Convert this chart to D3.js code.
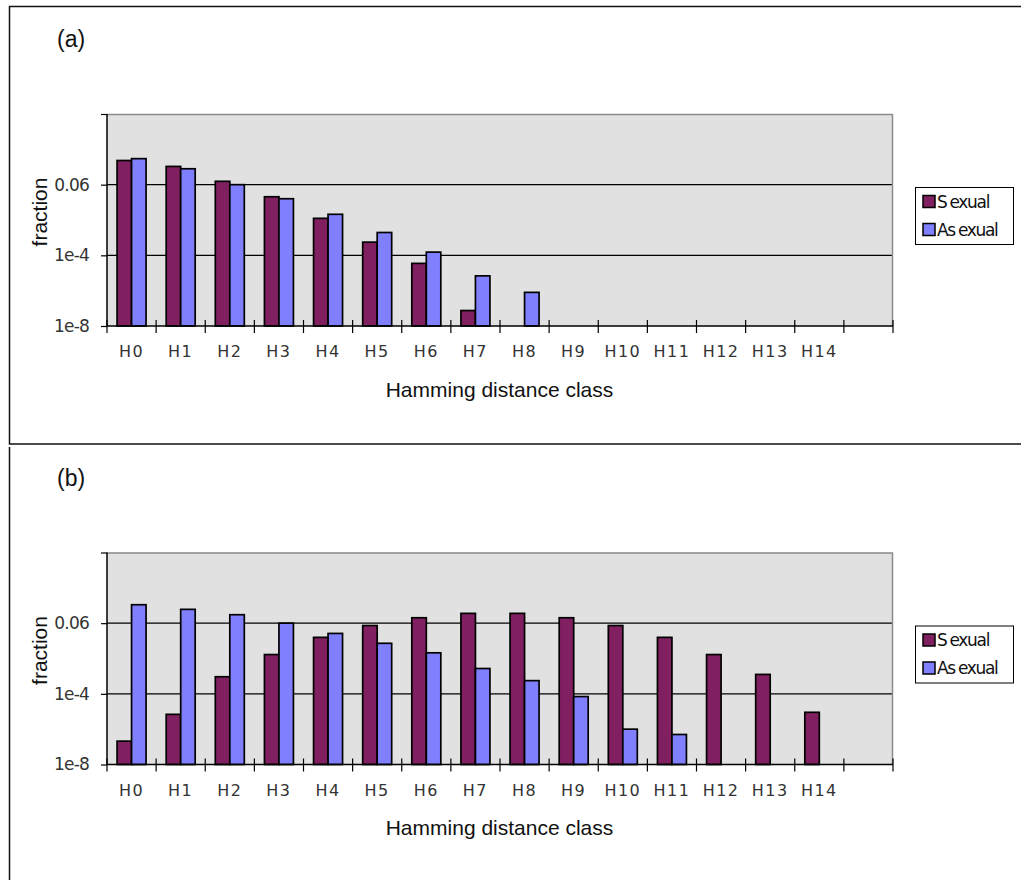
<!DOCTYPE html>
<html>
<head>
<meta charset="utf-8">
<script src="https://cdn.jsdelivr.net/npm/d3@7"></script>
<style>
  html, body { margin: 0; padding: 0; background: #fff; }
  svg { display: block; }
</style>
</head>
<body>
<svg id="chart" width="1021" height="880"></svg>
<script>
// Hamming distance classes (last slot is an empty class)
const categories = ["H0","H1","H2","H3","H4","H5","H6","H7","H8","H9","H10","H11","H12","H13","H14",""];

// Panel (a)
const sexualA   = [0.157, 0.124, 0.0686, 0.0201, 0.00285, 3.3e-4, 3.5e-5, 7.5e-8, null, null, null, null, null, null, null, null];
const asexualA  = [0.169, 0.113, 0.06, 0.0168, 0.0041, 7.9e-4, 1.34e-4, 6.9e-6, 8e-7, null, null, null, null, null, null, null];

// Panel (b)
const sexualB   = [2.1e-7, 6.9e-6, 4.7e-4, 3.5e-3, 0.0166, 0.0484, 0.0744, 0.0886, 0.0886, 0.0744, 0.0484, 0.0166, 3.5e-3, 5.8e-4, 9e-6, null];
const asexualB  = [0.125, 0.104, 0.084, 0.06, 0.0237, 0.0097, 0.0041, 9.9e-4, 3.3e-4, 7e-5, 1e-6, 5e-7, null, null, null, null];

// Value axis: tick values and the labels printed beside them
const yTickValues = [1e-8, 1e-4, 0.06, 1];
const yTickLabels = ["1e-8", "1e-4", "0.06", ""];

const seriesNames = ["Sexual", "Asexual"];
const seriesColors = ["#802060", "#8080ff"];

const svg = d3.select("#chart");

// Outer frames
svg.append("rect")
  .attr("x", 9.5).attr("y", 6.5)
  .attr("width", 1030).attr("height", 437.5)
  .attr("fill", "none").attr("stroke", "#111").attr("stroke-width", 1.5);
svg.append("line")
  .attr("x1", 9.5).attr("x2", 9.5).attr("y1", 447).attr("y2", 880)
  .attr("stroke", "#111").attr("stroke-width", 1.5);

const plotLeft = 107, plotW = 786, plotH = 212;

function drawPanel(label, sexual, asexual, top) {
  const g = svg.append("g").attr("transform", `translate(${plotLeft},${top})`);

  const x = d3.scaleBand().domain(categories).range([0, plotW]).padding(0);
  const y = d3.scaleLog()
    .domain(yTickValues)
    .range([plotH, plotH * 2 / 3, plotH / 3, 0]);

  // plot area
  g.append("rect").attr("width", plotW).attr("height", plotH).attr("fill", "#e1e1e1");

  // gridlines
  g.selectAll(".grid").data([1e-4, 0.06]).join("line")
    .attr("x1", 0).attr("x2", plotW)
    .attr("y1", d => y(d)).attr("y2", d => y(d))
    .attr("stroke", "#000").attr("stroke-width", 1.2);

  // top and right edges of the plot area
  g.append("path")
    .attr("d", `M0,0.5H${plotW - 0.5}V${plotH}`)
    .attr("fill", "none").attr("stroke", "#8c8c8c").attr("stroke-width", 1.5);

  // bars
  const groupW = x.bandwidth() * 0.59;
  const barW = groupW / 2;
  const sub = d3.scaleBand().domain([0, 1]).range([0, groupW]);
  [sexual, asexual].forEach((vals, si) => {
    g.append("g").selectAll("rect")
      .data(categories.map((c, i) => ({ c, v: vals[i] })).filter(d => d.v != null))
      .join("rect")
      .attr("x", d => x(d.c) + (x.bandwidth() - groupW) / 2 + sub(si))
      .attr("width", barW)
      .attr("y", d => y(d.v))
      .attr("height", d => plotH - y(d.v))
      .attr("fill", seriesColors[si])
      .attr("stroke", "#000").attr("stroke-width", 1.7);
  });

  // y axis
  const yAxis = d3.axisLeft(y)
    .tickValues(yTickValues)
    .tickFormat((d, i) => yTickLabels[i])
    .tickSize(6).tickPadding(12);
  const ya = g.append("g").call(yAxis);
  ya.select(".domain").attr("stroke", "#000").attr("stroke-width", 1.5).attr("d", `M0,0V${plotH}`);
  ya.selectAll(".tick line").attr("stroke", "#000").attr("stroke-width", 1.2);
  ya.selectAll(".tick text")
    .attr("font-family", "DejaVu Sans, sans-serif").attr("font-size", 17)
    .attr("fill", "#333").attr("letter-spacing", "-0.8");

  // x axis line and crossing tick marks at class boundaries
  g.append("line").attr("x1", 0).attr("x2", plotW).attr("y1", plotH).attr("y2", plotH)
    .attr("stroke", "#000").attr("stroke-width", 1.5);
  const bounds = d3.range(categories.length + 1).map(i => i * x.step());
  g.selectAll(".xtick").data(bounds).join("line")
    .attr("x1", d => d).attr("x2", d => d)
    .attr("y1", plotH - 6).attr("y2", plotH + 7)
    .attr("stroke", "#000").attr("stroke-width", 1.2);

  const xAxis = d3.axisBottom(x).tickSize(0).tickPadding(20);
  const xa = g.append("g").attr("transform", `translate(0,${plotH})`).call(xAxis);
  xa.select(".domain").remove();
  xa.selectAll(".tick text")
    .attr("font-family", "DejaVu Sans, sans-serif").attr("font-size", 16)
    .attr("fill", "#333").attr("letter-spacing", "1.5").attr("dy", "0.71em");

  // axis titles
  g.append("text")
    .attr("x", 392.5).attr("y", plotH + 70.5)
    .attr("text-anchor", "middle")
    .attr("font-family", "Liberation Sans, Arial, sans-serif").attr("font-size", 21)
    .attr("fill", "#111")
    .text("Hamming distance class");
  g.append("text")
    .attr("transform", `translate(${47 - plotLeft},${98}) rotate(-90)`)
    .attr("text-anchor", "middle")
    .attr("font-family", "Liberation Sans, Arial, sans-serif").attr("font-size", 21)
    .attr("fill", "#111")
    .text("fraction");

  // panel label
  g.append("text")
    .attr("x", 57 - plotLeft).attr("y", -67)
    .attr("font-family", "Liberation Sans, Arial, sans-serif").attr("font-size", 23)
    .attr("fill", "#111")
    .text(label);

  // legend
  const lg = g.append("g").attr("transform", `translate(${915 - plotLeft},${73})`);
  lg.append("rect").attr("x", 0.5).attr("y", 0.5).attr("width", 98).attr("height", 57)
    .attr("fill", "#fff").attr("stroke", "#000").attr("stroke-width", 1);
  seriesNames.forEach((name, i) => {
    const cy = 14.5 + i * 28;
    lg.append("rect").attr("x", 8).attr("y", cy - 6).attr("width", 12).attr("height", 12)
      .attr("fill", seriesColors[i]).attr("stroke", "#000").attr("stroke-width", 1.5);
    const cut = name.indexOf("exual");
    const t = lg.append("text").attr("x", 22).attr("y", cy + 6)
      .attr("font-family", "DejaVu Sans, sans-serif").attr("font-size", 17)
      .attr("fill", "#111").attr("letter-spacing", "-1.3");
    t.append("tspan").text(name.slice(0, cut));
    t.append("tspan").attr("dx", 3).text(name.slice(cut));
  });
}

drawPanel("(a)", sexualA, asexualA, 114);
drawPanel("(b)", sexualB, asexualB, 552.5);
</script>
</body>
</html>
